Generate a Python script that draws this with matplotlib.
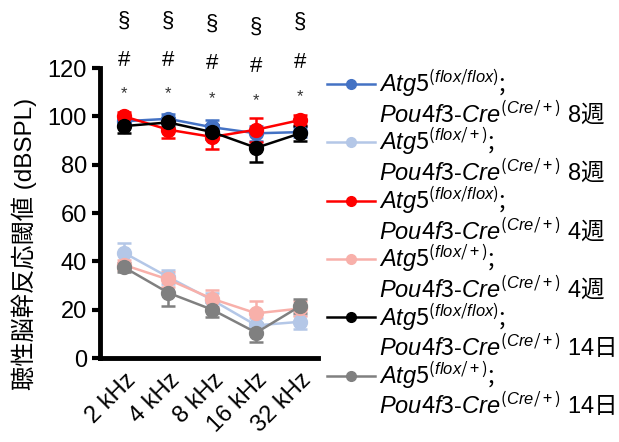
import matplotlib
matplotlib.use("Agg")
import matplotlib.pyplot as plt
from matplotlib.lines import Line2D

# フォント設定 (英字は Arial 相当、和文は Noto)
plt.rcParams['font.family'] = ['Liberation Sans', 'Noto Sans CJK JP']
plt.rcParams['mathtext.fontset'] = 'custom'
plt.rcParams['mathtext.rm'] = 'Noto Sans CJK JP'
plt.rcParams['mathtext.it'] = 'Liberation Sans:italic'

freqs = ['2 kHz', '4 kHz', '8 kHz', '16 kHz', '32 kHz']

ff_8w = [98, 99, 95.5, 93, 93.5]
ff_8w_err = [2, 2, 3, 3, 2]
fp_8w = [43.5, 33.5, 24, 13.5, 15]
fp_8w_err = [4, 3, 3, 3, 3]
ff_4w = [100, 94.5, 91.5, 94.5, 98.5]
ff_4w_err = [2, 3.5, 5, 5, 2]
fp_4w = [38.5, 32.5, 24.5, 18.5, 20.5]
fp_4w_err = [2, 3, 3.5, 5, 3]
ff_14d = [96, 97.5, 93.5, 87, 93]
ff_14d_err = [3, 2, 3, 6, 3]
fp_14d = [37.5, 27, 20, 10.5, 21.5]
fp_14d_err = [2, 5.5, 3, 4, 3]

ff = r"$\mathit{Atg5}^{\mathit{(flox/flox)}}\mathit{;}$"
fp = r"$\mathit{Atg5}^{\mathit{(flox/+)}}\mathit{;}$"
cre = r"$\mathit{Pou4f3}$" + "-" + r"$\mathit{Cre}^{\mathit{(Cre/+)}}$"

series = [
    (ff_8w, ff_8w_err, '#4472C4', ff, cre + r" 8$\mathrm{週}$"),
    (fp_8w, fp_8w_err, '#B4C7E7', fp, cre + r" 8$\mathrm{週}$"),
    (ff_4w, ff_4w_err, '#FF0000', ff, cre + r" 4$\mathrm{週}$"),
    (fp_4w, fp_4w_err, '#F8B0AA', fp, cre + r" 4$\mathrm{週}$"),
    (ff_14d, ff_14d_err, '#000000', ff, cre + r" 14$\mathrm{日}$"),
    (fp_14d, fp_14d_err, '#808080', fp, cre + r" 14$\mathrm{日}$"),
]

fig = plt.figure(figsize=(6.19, 4.42), dpi=100)
ax = fig.add_axes([0.1616, 0.19, 0.352, 0.656])

x = list(range(len(freqs)))
handles = []
labels = []
for vals, err, col, l1, l2 in series:
    ax.errorbar(x, vals, yerr=err, color=col, marker='o', markersize=10,
                linewidth=1.8, elinewidth=1.8, capsize=5, capthick=1.8)
    handles.append(Line2D([], [], color=col, marker='o', markersize=7, linewidth=1.8))
    labels.append(l1)
    handles.append(Line2D([], [], linestyle='none'))
    labels.append(l2)

# 有意差の記号
star_y = [109.5, 109.5, 107.5, 106.5, 108]
hash_y = [123, 123, 122, 120.5, 122.5]
sect_y = [139.5, 139.5, 138, 137, 139]
for i in x:
    ax.text(i, star_y[i], '*', ha='center', va='center', fontsize=12, color='#333333', clip_on=False)
    ax.text(i, hash_y[i], '#', ha='center', va='center', fontsize=16, clip_on=False)
    ax.text(i, sect_y[i], '§', ha='center', va='center', fontsize=16, clip_on=False)

ax.set_xlim(-0.55, 4.4)
ax.set_ylim(0, 120)
ax.set_yticks(range(0, 121, 20))
ax.set_xticks(x)
ax.set_xticklabels(freqs, rotation=45, ha='right', rotation_mode='anchor')
ax.tick_params(axis='y', labelsize=17, width=3, length=6, direction='out')
ax.tick_params(axis='x', labelsize=17, length=0, pad=8)
for s in ['top', 'right']:
    ax.spines[s].set_visible(False)
for s in ['left', 'bottom']:
    ax.spines[s].set_linewidth(3.5)
ax.set_ylabel('聴性脳幹反応閾値 (dBSPL)', fontsize=17.5)
ax.yaxis.set_label_coords(-0.29, 0.395)

fig.legend(handles, labels, loc='upper left', bbox_to_anchor=(0.513, 0.870),
           frameon=False, fontsize=17, handlelength=2.05, handletextpad=0.15,
           labelspacing=-0.05, borderaxespad=0)

fig.savefig('out.png', dpi=100)
